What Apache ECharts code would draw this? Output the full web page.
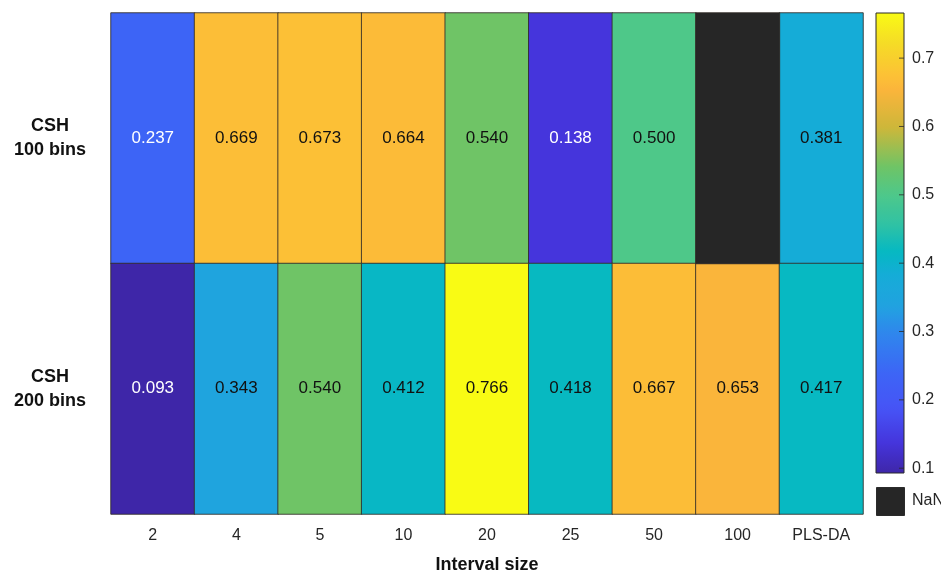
<!DOCTYPE html>
<html>
<head>
<meta charset="utf-8">
<script src="https://cdn.jsdelivr.net/npm/echarts@6/dist/echarts.min.js"></script>
<style>
  html, body { margin: 0; padding: 0; background: #fff; }
  #chart { width: 941px; height: 572px; }
</style>
</head>
<body>
<div id="chart"></div>
<script>
// Columns (interval sizes) and rows (histogram settings)
const intervals = ['2', '4', '5', '10', '20', '25', '50', '100', 'PLS-DA'];
const methods = ['CSH\n100 bins', 'CSH\n200 bins'];

// Scores per row, one per interval; null marks a missing result (NaN)
const csh100 = [0.237, 0.669, 0.673, 0.664, 0.540, 0.138, 0.500, null, 0.381];
const csh200 = [0.093, 0.343, 0.540, 0.412, 0.766, 0.418, 0.667, 0.653, 0.417];

// Colour scale range and colorbar ticks
const scaleMin = 0.093;
const scaleMax = 0.766;
const barTicks = [0.1, 0.2, 0.3, 0.4, 0.5, 0.6, 0.7];

// Parula-like colormap anchors: [position 0..1, colour]
const parula = [
  [0.000, '#3e26a8'], [0.067, '#4535dc'], [0.140, '#4654f6'], [0.214, '#3d64f6'],
  [0.310, '#2e89ec'], [0.361, '#21a2e0'], [0.428, '#16acd8'], [0.480, '#05b8c3'],
  [0.540, '#30c2a4'], [0.605, '#4ec88a'], [0.664, '#6dc466'], [0.750, '#cdb73a'],
  [0.832, '#fbb43b'], [0.860, '#fdc036'], [0.930, '#f5da27'], [1.000, '#f9fb14']
];

function hexToRgb(h) {
  return [parseInt(h.slice(1, 3), 16), parseInt(h.slice(3, 5), 16), parseInt(h.slice(5, 7), 16)];
}
function sampleMap(t) {
  for (let i = 1; i < parula.length; i++) {
    if (t <= parula[i][0]) {
      const [t0, c0] = parula[i - 1];
      const [t1, c1] = parula[i];
      const f = (t - t0) / (t1 - t0);
      const a = hexToRgb(c0), b = hexToRgb(c1);
      const rgb = a.map((v, k) => Math.round(v + (b[k] - v) * f));
      return 'rgb(' + rgb.join(',') + ')';
    }
  }
  return parula[parula.length - 1][1];
}
// evenly spaced stops for the visualMap and the colorbar gradient
const N_STOPS = 60;
const colorStops = [];
for (let i = 0; i <= N_STOPS; i++) colorStops.push(sampleMap(i / N_STOPS));
// vertical gradient: top = max, bottom = min
const barGradient = new echarts.graphic.LinearGradient(0, 0, 0, 1,
  colorStops.map((c, i) => ({ offset: 1 - i / N_STOPS, color: c })).reverse());

// heatmap cells built from the row arrays
const rows = [csh100, csh200];
const cells = [];
const nanCells = [];
rows.forEach((vals, r) => {
  vals.forEach((v, c) => {
    if (v === null) {
      nanCells.push([c, r, 0]);
    } else {
      cells.push({
        value: [c, r, v],
        label: { color: v < 0.3 ? '#ffffff' : '#111111' }
      });
    }
  });
});

// colorbar tick marks sit on the bar's right edge
const tickMarks = barTicks.map(t => [1, t]);

const chart = echarts.init(document.getElementById('chart'), null, { renderer: 'canvas' });

const font = 'Liberation Sans, Arial, Helvetica, sans-serif';

chart.setOption({
  backgroundColor: '#ffffff',
  animation: false,
  grid: [
    { left: 111, right: 78, top: 13, bottom: 58, outerBoundsMode: 'none', containLabel: false },
    {
      left: 876, width: 28, top: 13, height: 460, outerBoundsMode: 'none', containLabel: false,
      show: true, borderColor: '#2b2b2b', borderWidth: 1, backgroundColor: barGradient
    }
  ],
  xAxis: [
    {
      type: 'category', data: intervals, gridIndex: 0,
      axisLine: { show: false }, axisTick: { show: false },
      axisLabel: { color: '#262626', fontSize: 16, fontFamily: font, margin: 14 },
      name: 'Interval size', nameLocation: 'middle', nameGap: 42,
      nameTextStyle: { color: '#111', fontSize: 18, fontWeight: 'bold', fontFamily: font },
      splitArea: { show: false }
    },
    {
      type: 'value', gridIndex: 1, show: false, min: 0, max: 1
    }
  ],
  yAxis: [
    {
      type: 'category', data: methods, gridIndex: 0, inverse: true,
      axisLine: { show: false }, axisTick: { show: false },
      axisLabel: {
        color: '#111', fontSize: 18, fontWeight: 'bold', fontFamily: font,
        align: 'center', margin: 61, lineHeight: 24
      }
    },
    {
      type: 'value', gridIndex: 1, position: 'right',
      min: scaleMin, max: scaleMax,
      splitLine: { show: false },
      axisLine: { show: false },
      axisTick: { show: false },
      axisLabel: {
        customValues: barTicks, color: '#262626', fontSize: 16, fontFamily: font, margin: 8,
        formatter: v => v.toFixed(1)
      }
    }
  ],
  visualMap: {
    type: 'continuous',
    seriesIndex: 0,
    min: scaleMin, max: scaleMax,
    show: false,
    inRange: { color: colorStops }
  },
  series: [
    {
      type: 'heatmap',
      xAxisIndex: 0, yAxisIndex: 0,
      data: cells,
      itemStyle: { borderColor: 'rgba(50,45,40,0.85)', borderWidth: 1 },
      label: {
        show: true, fontSize: 17, fontFamily: font,
        formatter: p => p.value[2].toFixed(3)
      },
      emphasis: { disabled: true }
    },
    {
      type: 'heatmap',
      xAxisIndex: 0, yAxisIndex: 0,
      data: nanCells,
      itemStyle: { color: '#262626', borderColor: 'rgba(50,45,40,0.85)', borderWidth: 1 },
      label: { show: false },
      emphasis: { disabled: true }
    },
    {
      type: 'scatter',
      xAxisIndex: 1, yAxisIndex: 1,
      data: tickMarks,
      symbol: 'rect',
      symbolSize: [5, 1],
      symbolOffset: [-2.5, 0],
      itemStyle: { color: '#2b2b2b' },
      silent: true,
      z: 5
    }
  ],
  graphic: [
    {
      type: 'rect', left: 876, top: 487,
      shape: { width: 28, height: 28 },
      style: { fill: '#262626', stroke: '#2b2b2b', lineWidth: 1 }
    },
    {
      type: 'text', left: 912, top: 493,
      style: { text: 'NaN', fill: '#262626', fontSize: 16, fontFamily: font }
    }
  ]
});
</script>
</body>
</html>
